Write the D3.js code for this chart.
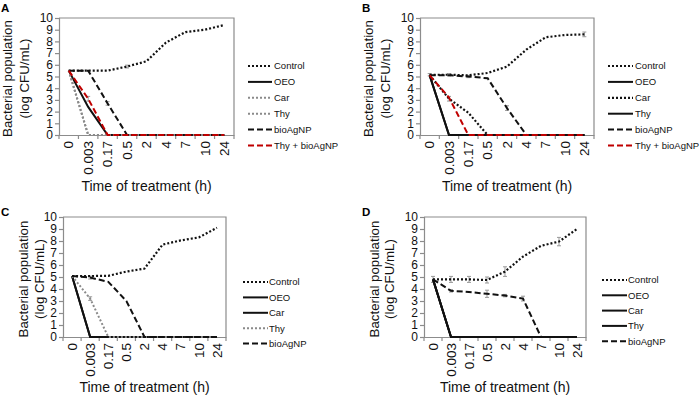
<!DOCTYPE html>
<html>
<head>
<meta charset="utf-8">
<script src="https://cdn.jsdelivr.net/npm/d3@7"></script>
<style>
  body { margin: 0; background: #fff; }
  svg { font-family: Arial, "Liberation Sans", sans-serif; }
</style>
</head>
<body>
<div id="chart"></div>
<script>
// categories and ticks
const times = ["0", "0.003", "0.17", "0.5", "2", "4", "7", "10", "24"];
const yTicks = [0, 1, 2, 3, 4, 5, 6, 7, 8, 9, 10];

// panel A
const aControl = [5.5, 5.5, 5.5, 5.85, 6.3, 7.9, 8.8, 9.0, 9.4];
const aOEO = [5.5, 2.4, 0, 0, 0, 0, 0, 0, 0];
const aCar = [5.5, 0, 0, 0, 0, 0, 0, 0, 0];
const aThy = [5.5, 0, 0, 0, 0, 0, 0, 0, 0];
const aBio = [5.5, 5.5, 2.7, 0, 0, 0, 0, 0, 0];
const aThyBio = [5.5, 3.1, 0, 0, 0, 0, 0, 0, 0];

// panel B
const bControl = [5.15, 5.15, 5.1, 5.3, 5.85, 7.3, 8.35, 8.55, 8.6];
const bOEO = [5.1, 0, 0, 0, 0, 0, 0, 0, 0];
const bCar = [5.1, 3.1, 1.9, 0, 0, 0, 0, 0, 0];
const bThy = [5.1, 0, 0, 0, 0, 0, 0, 0, 0];
const bBio = [5.1, 5.1, 5.0, 4.85, 2.3, 0, 0, 0, 0];
const bThyBio = [5.1, 3.2, 0, 0, 0, 0, 0, 0, 0];

// panel C
const cControl = [5.08, 5.08, 5.1, 5.45, 5.7, 7.7, 8.05, 8.3, 9.1];
const cOEO = [5.08, 0, 0, 0, 0, 0, 0, 0, 0];
const cCar = [5.08, 0, 0, 0, 0, 0, 0, 0, 0];
const cThy = [5.08, 3.2, 0, 0, 0, 0, 0, 0, 0];
const cBio = [5.08, 4.95, 4.6, 3.0, 0, 0, 0, 0, 0];

// panel D
const dControl = [4.8, 4.8, 4.8, 4.75, 5.45, 6.7, 7.6, 7.95, 9.0];
const dOEO = [4.8, 0, 0, 0, 0, 0, 0, 0, 0];
const dCar = [4.8, 0, 0, 0, 0, 0, 0, 0, 0];
const dThy = [4.8, 0, 0, 0, 0, 0, 0, 0, 0];
const dBio = [4.8, 3.85, 3.75, 3.6, 3.45, 3.2, 0, 0, 0];

// error bars (half widths, 0 = none)
const aControlErr = [0, 0, 0, 0.12, 0, 0, 0, 0, 0];
const aBioErr = [0, 0, 0.15, 0, 0, 0, 0, 0, 0];
const aThyBioErr = [0, 0.2, 0, 0, 0, 0, 0, 0, 0];
const bControlErr = [0.1, 0.1, 0, 0, 0, 0, 0, 0, 0.2];
const bCarErr = [0, 0.2, 0, 0, 0, 0, 0, 0, 0];
const bBioErr = [0, 0, 0.1, 0, 0.2, 0, 0, 0, 0];
const cThyErr = [0, 0.15, 0, 0, 0, 0, 0, 0, 0];
const cBioErr = [0, 0.12, 0, 0, 0, 0, 0, 0, 0];
const dControlErr = [0.25, 0.25, 0.25, 0.25, 0.4, 0, 0, 0.35, 0];
const dBioErr = [0, 0.1, 0, 0.3, 0.1, 0.2, 0, 0, 0];

const styles = {
  dotBlack: { stroke: "#111", width: 2.2, dash: "2,2" },
  dotGray: { stroke: "#8a8a8a", width: 2, dash: "2,2" },
  solid: { stroke: "#111", width: 2, dash: null },
  dash: { stroke: "#111", width: 2, dash: "6,3" },
  redDash: { stroke: "#c00000", width: 2, dash: "6,3" }
};

const panels = [
  {
    letter: "A", lx: 1, ly: 12,
    plot: { left: 59, right: 234, top: 18, bottom: 135 },
    titleX: [12, 29], xTitleY: 191,
    legend: { x0: 248, x1: 272, tx: 274, y0: 66, step: 15.9 },
    series: [
      { name: "Control", values: aControl, err: aControlErr, style: "dotBlack" },
      { name: "OEO", values: aOEO, style: "solid" },
      { name: "Car", values: aCar, style: "dotGray" },
      { name: "Thy", values: aThy, style: "dotGray" },
      { name: "bioAgNP", values: aBio, err: aBioErr, style: "dash" },
      { name: "Thy + bioAgNP", values: aThyBio, err: aThyBioErr, style: "redDash" }
    ]
  },
  {
    letter: "B", lx: 362, ly: 12,
    plot: { left: 420, right: 594, top: 18, bottom: 135 },
    titleX: [373, 390], xTitleY: 191,
    legend: { x0: 608, x1: 633, tx: 635, y0: 66, step: 15.9 },
    series: [
      { name: "Control", values: bControl, err: bControlErr, style: "dotBlack" },
      { name: "OEO", values: bOEO, style: "solid" },
      { name: "Car", values: bCar, err: bCarErr, style: "dotBlack" },
      { name: "Thy", values: bThy, style: "solid" },
      { name: "bioAgNP", values: bBio, err: bBioErr, style: "dash" },
      { name: "Thy + bioAgNP", values: bThyBio, style: "redDash" }
    ]
  },
  {
    letter: "C", lx: 1, ly: 216,
    plot: { left: 63, right: 226, top: 217, bottom: 337 },
    titleX: [28, 44], xTitleY: 392,
    legend: { x0: 243, x1: 268, tx: 269, y0: 282, step: 15.4 },
    series: [
      { name: "Control", values: cControl, style: "dotBlack" },
      { name: "OEO", values: cOEO, style: "solid" },
      { name: "Car", values: cCar, style: "solid" },
      { name: "Thy", values: cThy, err: cThyErr, style: "dotGray" },
      { name: "bioAgNP", values: cBio, err: cBioErr, style: "dash" }
    ]
  },
  {
    letter: "D", lx: 362, ly: 216,
    plot: { left: 424, right: 586, top: 217, bottom: 337 },
    titleX: [379, 394], xTitleY: 392,
    legend: { x0: 602, x1: 627, tx: 628, y0: 280, step: 15.3 },
    series: [
      { name: "Control", values: dControl, err: dControlErr, style: "dotBlack" },
      { name: "OEO", values: dOEO, style: "solid" },
      { name: "Car", values: dCar, style: "solid" },
      { name: "Thy", values: dThy, style: "solid" },
      { name: "bioAgNP", values: dBio, err: dBioErr, style: "dash" }
    ]
  }
];

const svg = d3.select("#chart")
  .append("svg")
  .attr("width", 700)
  .attr("height", 397);

const axisColor = "#8c8c8c";

panels.forEach(p => {
  const { left, right, top, bottom } = p.plot;

  const x = d3.scaleBand().domain(times).range([left, right]).padding(0);
  const y = d3.scaleLinear().domain([0, 10]).range([bottom, top]);
  const cx = d => x(d) + x.bandwidth() / 2;

  // panel letter
  svg.append("text")
    .attr("x", p.lx).attr("y", p.ly)
    .style("font-size", "11.5px").style("font-weight", "bold")
    .text(p.letter);

  // frame (top + right)
  svg.append("path")
    .attr("d", `M${left},${top}H${right}V${bottom}`)
    .attr("fill", "none").attr("stroke", axisColor).attr("stroke-width", 1.2);

  // y axis
  const gy = svg.append("g")
    .attr("transform", `translate(${left},0)`)
    .call(d3.axisLeft(y).tickValues(yTicks).tickSize(4).tickPadding(2));
  gy.selectAll("path, line").attr("stroke", axisColor).attr("stroke-width", 1.2);
  gy.selectAll("text").style("font-size", "12px").attr("fill", "#111").style("font-family", "Arial, 'Liberation Sans', sans-serif");

  // x axis: labels at band centers, tick marks at band edges
  const gx = svg.append("g")
    .attr("transform", `translate(0,${bottom})`)
    .call(d3.axisBottom(x).tickSize(0).tickPadding(0));
  gx.select(".domain").attr("stroke", axisColor).attr("stroke-width", 1.2);
  gx.selectAll("text")
    .attr("transform", "rotate(-90)")
    .attr("x", -6).attr("y", 0).attr("dy", "0.35em")
    .style("text-anchor", "end")
    .style("font-size", "13.5px")
    .style("font-family", "Arial, 'Liberation Sans', sans-serif")
    .attr("fill", "#111");
  gx.selectAll("line.edge")
    .data(times.map(t => x(t)).concat([right]))
    .join("line")
    .attr("class", "edge")
    .attr("x1", d => d).attr("x2", d => d)
    .attr("y1", 0).attr("y2", 4)
    .attr("stroke", axisColor).attr("stroke-width", 1.2);

  // axis titles
  const midY = (top + bottom) / 2 + 2;
  svg.append("text")
    .attr("transform", `translate(${p.titleX[0]},${midY}) rotate(-90)`)
    .style("text-anchor", "middle").style("font-size", "13.3px").attr("fill", "#111")
    .text("Bacterial population");
  svg.append("text")
    .attr("transform", `translate(${p.titleX[1]},${midY}) rotate(-90)`)
    .style("text-anchor", "middle").style("font-size", "13.3px").attr("fill", "#111")
    .text("(log CFU/mL)");
  svg.append("text")
    .attr("x", (left + right) / 2).attr("y", p.xTitleY)
    .style("text-anchor", "middle").style("font-size", "14px").attr("fill", "#111")
    .text("Time of treatment (h)");

  const line = d3.line()
    .x((d, i) => cx(times[i]))
    .y(d => y(d));

  // error bars
  p.series.filter(s => s.err).forEach(s => {
    const eb = s.values.map((v, i) => ({ t: times[i], v, e: s.err[i] })).filter(d => d.e > 0);
    const g = svg.append("g").attr("stroke", "#999").attr("stroke-width", 1);
    g.selectAll("line.v").data(eb).join("line").attr("class", "v")
      .attr("x1", d => cx(d.t)).attr("x2", d => cx(d.t))
      .attr("y1", d => y(d.v - d.e)).attr("y2", d => y(d.v + d.e));
    g.selectAll("line.lo").data(eb).join("line").attr("class", "lo")
      .attr("x1", d => cx(d.t) - 2).attr("x2", d => cx(d.t) + 2)
      .attr("y1", d => y(d.v - d.e)).attr("y2", d => y(d.v - d.e));
    g.selectAll("line.hi").data(eb).join("line").attr("class", "hi")
      .attr("x1", d => cx(d.t) - 2).attr("x2", d => cx(d.t) + 2)
      .attr("y1", d => y(d.v + d.e)).attr("y2", d => y(d.v + d.e));
  });

  // series lines
  p.series.forEach(s => {
    const st = styles[s.style];
    svg.append("path")
      .datum(s.values)
      .attr("d", line)
      .attr("fill", "none")
      .attr("stroke", st.stroke)
      .attr("stroke-width", st.width)
      .attr("stroke-dasharray", st.dash);
  });

  // legend
  const lg = p.legend;
  p.series.forEach((s, i) => {
    const st = styles[s.style];
    const ly = lg.y0 + i * lg.step;
    svg.append("line")
      .attr("x1", lg.x0).attr("x2", lg.x1)
      .attr("y1", ly).attr("y2", ly)
      .attr("stroke", st.stroke)
      .attr("stroke-width", st.width)
      .attr("stroke-dasharray", st.dash);
    svg.append("text")
      .attr("x", lg.tx).attr("y", ly)
      .attr("dy", "0.35em")
      .style("font-size", "9.5px").attr("fill", "#111")
      .text(s.name);
  });
});
</script>
</body>
</html>
